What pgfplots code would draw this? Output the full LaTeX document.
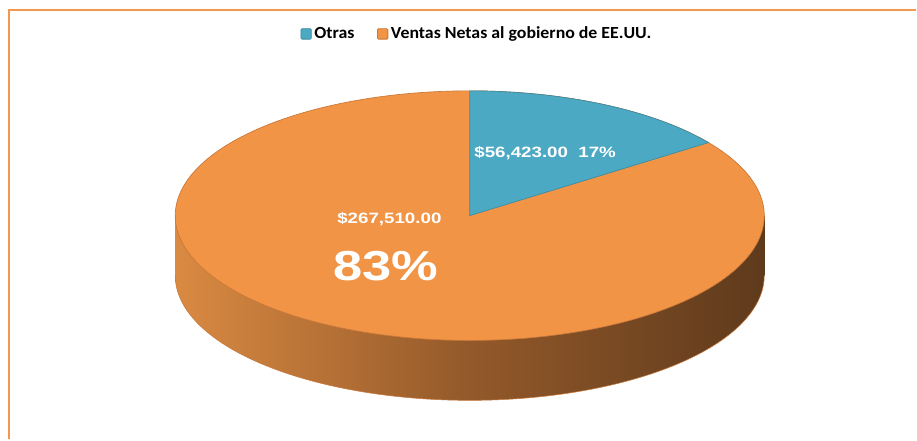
\documentclass[border=0pt]{standalone}
\usepackage{pgfplots}
\pgfplotsset{compat=1.18}
\usepackage{pgfplotstable}
\usepackage{fontspec}
\setmainfont{Carlito}
\newfontfamily\legfont[FakeStretch=1.05]{Carlito}
\newfontfamily\lblfont[FakeStretch=1.25]{Liberation Sans}

\definecolor{pieOrange}{HTML}{F29445}
\definecolor{pieBlue}{HTML}{4BA9C4}
\definecolor{edgeOrange}{HTML}{C8783A}
\definecolor{edgeBlue}{HTML}{3E8AA0}
\definecolor{sideL}{HTML}{DA8A42}
\definecolor{sideM}{HTML}{93592A}
\definecolor{sideR}{HTML}{5E3A1C}
\definecolor{borderOrange}{HTML}{F5984F}

\pgfplotstableread{
label value
Otras 56423
Ventas 267510
}\datatable
\pgfplotstablegetelem{0}{value}\of\datatable \let\vA\pgfplotsretval
\pgfplotstablegetelem{1}{value}\of\datatable \let\vB\pgfplotsretval
% angle of the wedge boundary (pie starts at top, goes clockwise)
\edef\phiA{\fpeval{90-360*\vA/(\vA+\vB)}}
% perspective of the tilted 3-D pie
\edef\thA{\fpeval{atand(1.4*sind(\phiA), cosd(\phiA))}}

\def\cx{470.5}
\def\cy{224}
\def\rx{295}
\def\ry{125}
\def\dep{60}

\begin{document}
\begin{tikzpicture}
\begin{axis}[
  at={(0,0)}, anchor=south west,
  scale only axis, width=687.75pt, height=330pt,
  xmin=0, xmax=917, ymin=0, ymax=440,
  hide axis, clip=false,
  legend style={at={(axis cs:478,406)}, anchor=center, draw=none, fill=none,
    legend columns=2, font=\legfont\bfseries\fontsize{12.75}{14}\selectfont,
    /tikz/every even column/.append style={column sep=15pt},
    legend cell align=left},
  legend image code/.code={\draw[#1, rounded corners=0.8pt] (0pt,-3.9pt) rectangle (7.8pt,3.9pt);},
]
% full canvas (keeps the picture's size)
\addplot[draw=none, forget plot] coordinates {(0,0) (917,440)};
% frame
\addplot[color=borderOrange, line width=2.2pt, forget plot] coordinates {(9,0) (9,430) (917,430)};

% side of the pie
\addplot[draw=none, left color=sideL, right color=sideR, middle color=sideM, forget plot]
  coordinates {(175.5,164) (765.5,164) (765.5,224) (175.5,224)} -- cycle;
\addplot[draw=none, left color=sideL, right color=sideR, middle color=sideM,
  domain=0:360, samples=181, variable=\t, forget plot]
  ({\cx+\rx*cos(\t)}, {\cy-\dep+\ry*sin(\t)}) -- cycle;
\addplot[draw=edgeOrange, line width=0.4pt, domain=180:360, samples=121, variable=\t, forget plot]
  ({\cx+\rx*cos(\t)}, {\cy-\dep+\ry*sin(\t)});

% top face
\addplot[fill=pieOrange, draw=edgeOrange, line width=0.5pt,
  domain=0:360, samples=241, variable=\t, forget plot]
  ({\cx+\rx*cos(\t)}, {\cy+\ry*sin(\t)}) -- cycle;
\addplot[fill=pieBlue, draw=edgeBlue, line width=0.5pt,
  domain=\thA:90, samples=80, variable=\t, forget plot]
  ({\cx+\rx*cos(\t)}, {\cy+\ry*sin(\t)}) -- (axis cs:\cx,\cy) -- cycle;

% legend
\addlegendimage{fill=pieBlue, draw=edgeBlue, line width=0.6pt}
\addlegendentry{Otras}
\addlegendimage{fill=pieOrange, draw=edgeOrange, line width=0.6pt}
\addlegendentry{Ventas Netas al gobierno de EE.UU.}

% data labels
\node[text=white, font=\lblfont\bfseries\fontsize{11.25}{13}\selectfont] at (axis cs:546,287) {\$56,423.00\ \ 17\%};
\node[text=white, font=\lblfont\bfseries\fontsize{11.25}{13}\selectfont] at (axis cs:390,221) {\$267,510.00};
\node[text=white, font=\lblfont\bfseries\fontsize{31.5}{34}\selectfont] at (axis cs:386.5,173) {83\%};
\end{axis}
\end{tikzpicture}
\end{document}
